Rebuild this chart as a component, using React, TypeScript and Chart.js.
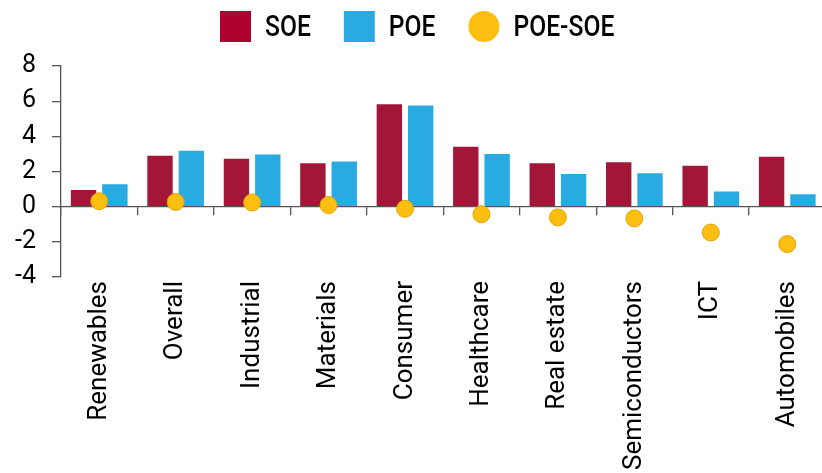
import React, { useEffect, useRef } from 'react';
import { Chart, registerables } from 'chart.js';

Chart.register(...registerables);

const categories = ['Renewables', 'Overall', 'Industrial', 'Materials', 'Consumer', 'Healthcare', 'Real estate', 'Semiconductors', 'ICT', 'Automobiles'];
const soeValues = [0.95, 2.9, 2.73, 2.47, 5.83, 3.41, 2.47, 2.53, 2.33, 2.84];
const poeValues = [1.28, 3.18, 2.96, 2.57, 5.75, 3.0, 1.86, 1.9, 0.86, 0.7];
const diffValues = [0.31, 0.27, 0.24, 0.09, -0.12, -0.43, -0.61, -0.67, -1.47, -2.13];
const yTicks = [-4, -2, 0, 2, 4, 6, 8];
const seriesNames = ['SOE', 'POE', 'POE-SOE'];

const SOE_COLOR = '#A21638';
const SOE_LEGEND = '#B0002F';
const POE_COLOR = '#29ABE2';
const DIFF_COLOR = '#FCBE10';
const DIFF_BORDER = '#E2A600';
const FONT = 'Roboto';

const legendPlugin = {
  id: 'topLegend',
  afterDraw(chart: any) {
    const ctx = chart.ctx;
    const sx = 0.85;
    const fontSize = 29;
    const top = 11;
    const size = 31;
    const cy = top + size / 2;
    let x = 220;
    ctx.save();
    ctx.font = `500 ${fontSize}px ${FONT}`;
    ctx.textBaseline = 'alphabetic';
    ctx.textAlign = 'left';
    chart.data.datasets.forEach((ds: any) => {
      ctx.fillStyle = ds.legendColor;
      if (ds.type === 'line') {
        ctx.beginPath();
        ctx.arc(x + size / 2, cy, size / 2, 0, Math.PI * 2);
        ctx.fill();
      } else {
        ctx.fillRect(x, top, size, size);
      }
      x += size + 14;
      ctx.save();
      ctx.translate(x, 36);
      ctx.scale(sx, 1);
      ctx.fillStyle = '#000';
      ctx.fillText(ds.label, 0, 0);
      ctx.restore();
      x += ctx.measureText(ds.label).width * sx + 33;
    });
    ctx.restore();
  },
};

export default function App() {
  const canvasRef = useRef<HTMLCanvasElement | null>(null);

  useEffect(() => {
    const canvas = canvasRef.current;
    if (!canvas) return;
    const chart = new Chart(canvas, {
      type: 'bar',
      data: {
        labels: categories,
        datasets: [
          {
            type: 'bar',
            label: seriesNames[0],
            data: soeValues,
            backgroundColor: SOE_COLOR,
            legendColor: SOE_LEGEND,
            order: 1,
            xAxisID: 'x',
            categoryPercentage: 0.82,
            barPercentage: 0.81,
          } as any,
          {
            type: 'bar',
            label: seriesNames[1],
            data: poeValues,
            backgroundColor: POE_COLOR,
            legendColor: POE_COLOR,
            order: 1,
            xAxisID: 'x',
            categoryPercentage: 0.82,
            barPercentage: 0.81,
          } as any,
          {
            type: 'line',
            label: seriesNames[2],
            data: diffValues,
            showLine: false,
            pointRadius: 8.5,
            pointHoverRadius: 8.5,
            pointBackgroundColor: DIFF_COLOR,
            pointBorderColor: DIFF_BORDER,
            pointBorderWidth: 1,
            backgroundColor: DIFF_COLOR,
            borderColor: DIFF_BORDER,
            legendColor: DIFF_COLOR,
            order: 0,
            xAxisID: 'x',
          } as any,
        ],
      },
      options: {
        responsive: false,
        animation: false,
        devicePixelRatio: 1,
        layout: { padding: { top: 66, left: 0, right: 0, bottom: 0 } },
        plugins: {
          legend: { display: false },
          tooltip: { enabled: false },
        },
        scales: {
          x: {
            type: 'category',
            position: { y: 0 } as any,
            offset: true,
            grid: {
              offset: true,
              drawOnChartArea: false,
              drawTicks: true,
              tickLength: 8,
              color: '#555',
              lineWidth: 1.3,
            },
            border: { display: true, color: '#555', width: 1.3 },
            ticks: { display: false },
          },
          x2: {
            type: 'category',
            axis: 'x',
            position: 'bottom',
            offset: true,
            grid: { display: false, drawTicks: false, offset: true },
            border: { display: false },
            ticks: {
              autoSkip: false,
              maxRotation: 90,
              minRotation: 90,
              padding: 4,
              color: '#000',
              font: { family: FONT, size: 26 },
            },
            afterFit: (scale: any) => {
              scale.height = 196;
            },
          } as any,
          y: {
            type: 'linear',
            position: 'left',
            min: yTicks[0],
            max: yTicks[yTicks.length - 1],
            afterBuildTicks: (scale: any) => {
              scale.ticks = yTicks.map((v) => ({ value: v }));
            },
            grid: {
              drawOnChartArea: false,
              drawTicks: true,
              tickLength: 9,
              color: '#555',
              lineWidth: 1.3,
            },
            border: { display: true, color: '#555', width: 1.3 },
            ticks: {
              padding: 16,
              color: '#000',
              font: { family: FONT, size: 25 },
            },
            afterFit: (scale: any) => {
              scale.width = 61;
            },
          },
        },
      },
      plugins: [legendPlugin],
    });
    return () => {
      chart.destroy();
    };
  }, []);

  return (
    <div style={{ position: 'absolute', left: 0, top: 0, width: 822, height: 473, overflow: 'hidden', background: '#fff' }}>
      <canvas ref={canvasRef} width={835} height={473} style={{ display: 'block' }} />
    </div>
  );
}
